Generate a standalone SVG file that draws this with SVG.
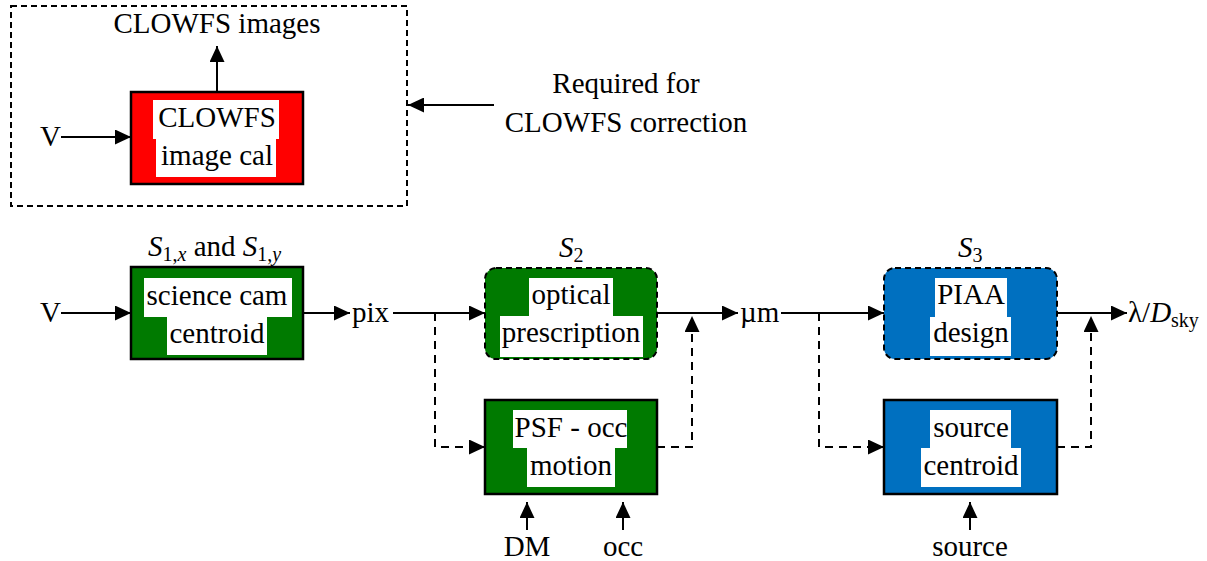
<svg xmlns="http://www.w3.org/2000/svg" width="1207" height="561" viewBox="0 0 1207 561">
<style>
text{font-family:'Liberation Serif','Times New Roman',Tinos,'DejaVu Serif',serif;font-size:29px;fill:#000}
.c{text-anchor:middle}
.box{stroke:#000;stroke-width:2.5}
.dbox{stroke:#000;stroke-width:2;stroke-dasharray:6 4}
.red{fill:#ff0000}.grn{fill:#007a00}.blu{fill:#0070c0}
.bg{fill:#fff}
.ln{fill:none;stroke:#000;stroke-width:2}
.dl{fill:none;stroke:#000;stroke-width:2;stroke-dasharray:8 6}
.sub{font-size:20px}
</style>
<defs>
<marker id="ah" markerUnits="userSpaceOnUse" markerWidth="16" markerHeight="15" refX="16" refY="7.5" orient="auto">
<path d="M0,0 L16,7.5 L0,15 z" fill="#000"/>
</marker>
</defs>
<rect x="11" y="6" width="396" height="200" fill="none" class="dbox"/>
<g id="clowfs">
<rect x="131" y="92" width="172" height="92" class="box red"/>
<rect x="153" y="100" width="126" height="39" class="bg"/>
<rect x="156" y="139" width="120" height="38" class="bg"/>
<text x="217" y="127" class="c" font-family="Liberation Serif">CLOWFS</text>
<text x="217" y="165" class="c">image cal</text>
</g>
<g id="sci">
<rect x="131" y="267" width="172" height="92" class="box grn"/>
<rect x="144" y="278" width="148" height="39" class="bg"/>
<rect x="167" y="317" width="100" height="38" class="bg"/>
<text x="217" y="305" class="c">science cam</text>
<text x="217" y="343" class="c">centroid</text>
</g>
<g id="optical">
<rect x="485" y="268" width="172" height="91" rx="11" class="dbox grn"/>
<rect x="529" y="278" width="84" height="38" class="bg"/>
<rect x="500" y="316" width="143" height="41" class="bg"/>
<text x="571" y="304" class="c">optical</text>
<text x="571" y="342" class="c">prescription</text>
</g>
<g id="psf">
<rect x="485" y="400" width="172" height="94" class="box grn"/>
<rect x="513" y="410" width="114" height="38" class="bg"/>
<rect x="527" y="448" width="88" height="39" class="bg"/>
<text x="571" y="437" class="c">PSF - occ</text>
<text x="571" y="475" class="c">motion</text>
</g>
<g id="piaa">
<rect x="884" y="268" width="173" height="91" rx="11" class="dbox blu"/>
<rect x="935" y="278" width="72" height="39" class="bg"/>
<rect x="930" y="317" width="81" height="39" class="bg"/>
<text x="971" y="304" class="c">PIAA</text>
<text x="971" y="342" class="c">design</text>
</g>
<g id="source">
<rect x="884" y="400" width="173" height="94" class="box blu"/>
<rect x="930" y="410" width="81" height="38" class="bg"/>
<rect x="921" y="448" width="100" height="39" class="bg"/>
<text x="971" y="437" class="c">source</text>
<text x="971" y="475" class="c">centroid</text>
</g>
<g id="labels">
<text x="217" y="33" class="c">CLOWFS images</text>
<text x="40" y="146">V</text>
<text x="626" y="93" class="c">Required for</text>
<text x="626" y="132" class="c">CLOWFS correction</text>
<text x="148" y="256"><tspan font-style="italic">S</tspan><tspan class="sub" dy="5">1,</tspan><tspan class="sub" font-style="italic">x</tspan><tspan dy="-5"> and </tspan><tspan font-style="italic">S</tspan><tspan class="sub" dy="5">1,</tspan><tspan class="sub" font-style="italic">y</tspan></text>
<text x="40" y="322">V</text>
<text x="352" y="322">pix</text>
<text x="559" y="257"><tspan font-style="italic">S</tspan><tspan class="sub" dy="5">2</tspan></text>
<text x="740" y="322">µm</text>
<text x="958" y="257"><tspan font-style="italic">S</tspan><tspan class="sub" dy="5">3</tspan></text>
<text x="1128" y="322">λ/<tspan font-style="italic">D</tspan><tspan class="sub" dy="5">sky</tspan></text>
<text x="527" y="556" class="c">DM</text>
<text x="623" y="556" class="c">occ</text>
<text x="970" y="556" class="c">source</text>
</g>
<g id="connectors">
<path d="M61,137 H131" class="ln" marker-end="url(#ah)"/>
<path d="M217,92 V46" class="ln" marker-end="url(#ah)"/>
<path d="M494,105 H408" class="ln" marker-end="url(#ah)"/>
<path d="M61,313 H131" class="ln" marker-end="url(#ah)"/>
<path d="M303,313 H350" class="ln" marker-end="url(#ah)"/>
<path d="M393,313 H485" class="ln" marker-end="url(#ah)"/>
<path d="M435,313 V447 H485" class="dl" marker-end="url(#ah)"/>
<path d="M657,313 H738" class="ln" marker-end="url(#ah)"/>
<path d="M657,447 H692 V316" class="dl" marker-end="url(#ah)"/>
<path d="M527,530 V502" class="ln" marker-end="url(#ah)"/>
<path d="M623,530 V502" class="ln" marker-end="url(#ah)"/>
<path d="M781,313 H884" class="ln" marker-end="url(#ah)"/>
<path d="M819,313 V447 H884" class="dl" marker-end="url(#ah)"/>
<path d="M1057,313 H1127" class="ln" marker-end="url(#ah)"/>
<path d="M1057,447 H1091 V316" class="dl" marker-end="url(#ah)"/>
<path d="M970,530 V502" class="ln" marker-end="url(#ah)"/>
</g>
</svg>
